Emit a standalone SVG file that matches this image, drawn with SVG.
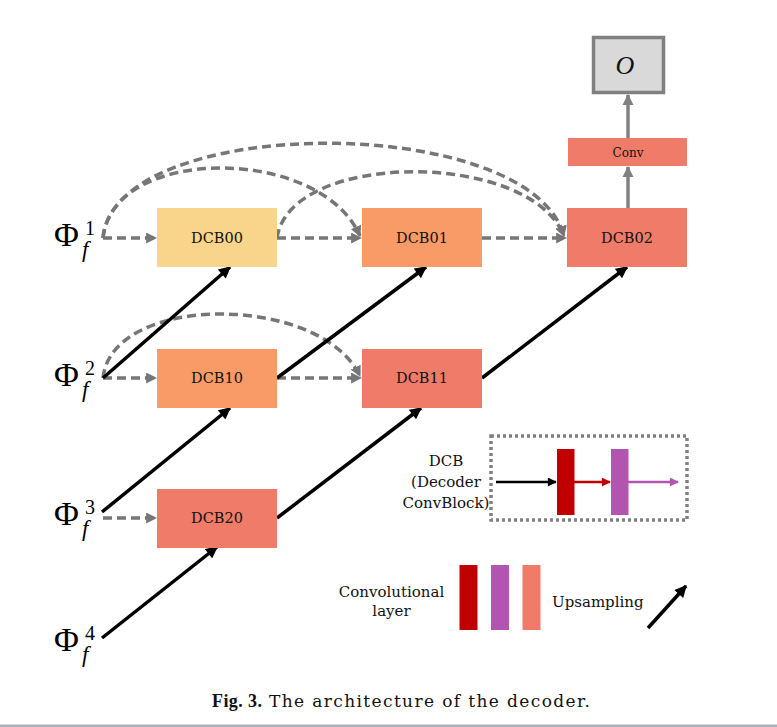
<svg xmlns="http://www.w3.org/2000/svg" width="777" height="727" viewBox="0 0 777 727">
<style>
.box{stroke:none}
.lbl{font-family:"DejaVu Serif","Liberation Serif",serif;font-size:14.5px;fill:#111;text-anchor:middle}
.phi{font-family:"Liberation Serif",serif;fill:#000}
.dash{fill:none;stroke:#767676;stroke-width:3.5;stroke-dasharray:9 5}
.solid{fill:none;stroke:#000;stroke-width:3.5}
.leg{font-family:"DejaVu Serif","Liberation Serif",serif;font-size:15px;fill:#111}
</style>
<defs>
<marker id="ga" markerUnits="userSpaceOnUse" viewBox="0 0 10 10" refX="9" refY="5" markerWidth="11" markerHeight="11" orient="auto"><path d="M0,0 L10,5 L0,10 z" fill="#767676"/></marker>
<marker id="ba" markerUnits="userSpaceOnUse" viewBox="0 0 10 10" refX="9" refY="5" markerWidth="13" markerHeight="12" orient="auto"><path d="M0,0 L10,5 L0,10 z" fill="#000"/></marker>
<marker id="sa" markerUnits="userSpaceOnUse" viewBox="0 0 10 10" refX="9" refY="5" markerWidth="10" markerHeight="9" orient="auto"><path d="M0,0 L10,5 L0,10 z" fill="#000"/></marker>
<marker id="ra" markerUnits="userSpaceOnUse" viewBox="0 0 10 10" refX="9" refY="5" markerWidth="10" markerHeight="9" orient="auto"><path d="M0,0 L10,5 L0,10 z" fill="#C00000"/></marker>
<marker id="pa" markerUnits="userSpaceOnUse" viewBox="0 0 10 10" refX="9" refY="5" markerWidth="10" markerHeight="9" orient="auto"><path d="M0,0 L10,5 L0,10 z" fill="#B254B0"/></marker>
<marker id="ca" markerUnits="userSpaceOnUse" viewBox="0 0 10 10" refX="9" refY="5" markerWidth="11" markerHeight="12" orient="auto"><path d="M0,0 L10,5 L0,10 z" fill="#808080"/></marker>
</defs>
<rect width="777" height="727" fill="#fff"/>

<g id="connectors">
<path class="dash" d="M103,238 H156" marker-end="url(#ga)"/>
<path class="dash" d="M277,238 H361" marker-end="url(#ga)"/>
<path class="dash" d="M482,238 H566" marker-end="url(#ga)"/>
<path class="dash" d="M103,378 H156" marker-end="url(#ga)"/>
<path class="dash" d="M277,378 H361" marker-end="url(#ga)"/>
<path class="dash" d="M103,518 H156" marker-end="url(#ga)"/>
<path class="dash" d="M103,238 C115,112 530,112 564,236" marker-end="url(#ga)"/>
<path class="dash" d="M103,238 C112,145 320,145 360,236" marker-end="url(#ga)"/>
<path class="dash" d="M277,238 C290,150 530,150 564,236" marker-end="url(#ga)"/>
<path class="dash" d="M103,378 C112,293 320,293 360,376" marker-end="url(#ga)"/>
<path class="solid" d="M103,378 L230,267" marker-end="url(#ba)"/>
<path class="solid" d="M277,378 L426,267" marker-end="url(#ba)"/>
<path class="solid" d="M482,378 L627,267" marker-end="url(#ba)"/>
<path class="solid" d="M102,512 L230,408" marker-end="url(#ba)"/>
<path class="solid" d="M277,518 L421,408" marker-end="url(#ba)"/>
<path class="solid" d="M102,638 L217,547" marker-end="url(#ba)"/>
<path d="M628,208 V167" stroke="#808080" stroke-width="3.5" fill="none" marker-end="url(#ca)"/>
<path d="M628,138 V95" stroke="#808080" stroke-width="3.5" fill="none" marker-end="url(#ca)"/>
</g>

<g id="phi1"><text class="phi" x="54" y="246" font-size="34">Φ</text><text class="phi" x="85" y="235" font-size="20">1</text><text class="phi" x="82" y="257" font-size="23" font-style="italic">f</text></g>
<g id="phi2"><text class="phi" x="54" y="386" font-size="34">Φ</text><text class="phi" x="85" y="375" font-size="20">2</text><text class="phi" x="82" y="397" font-size="23" font-style="italic">f</text></g>
<g id="phi3"><text class="phi" x="54" y="525" font-size="34">Φ</text><text class="phi" x="85" y="514" font-size="20">3</text><text class="phi" x="82" y="536" font-size="23" font-style="italic">f</text></g>
<g id="phi4"><text class="phi" x="54" y="651" font-size="34">Φ</text><text class="phi" x="85" y="640" font-size="20">4</text><text class="phi" x="82" y="662" font-size="23" font-style="italic">f</text></g>

<g id="DCB00"><rect class="box" x="157" y="208" width="120" height="59" fill="#F8D58A"/><text class="lbl" x="217" y="243">DCB00</text></g>
<g id="DCB01"><rect class="box" x="362" y="208" width="120" height="59" fill="#F99B66"/><text class="lbl" x="422" y="243">DCB01</text></g>
<g id="DCB02"><rect class="box" x="567" y="208" width="120" height="59" fill="#F07B69"/><text class="lbl" x="627" y="243">DCB02</text></g>
<g id="DCB10"><rect class="box" x="157" y="349" width="120" height="59" fill="#F99B66"/><text class="lbl" x="217" y="383">DCB10</text></g>
<g id="DCB11"><rect class="box" x="362" y="349" width="120" height="59" fill="#F07B69"/><text class="lbl" x="422" y="383">DCB11</text></g>
<g id="DCB20"><rect class="box" x="157" y="489" width="120" height="59" fill="#F07B69"/><text class="lbl" x="217" y="523">DCB20</text></g>
<g id="Conv"><rect class="box" x="568" y="138" width="119" height="28" fill="#F07B69"/><text class="lbl" x="628" y="157" style="font-size:12px">Conv</text></g>
<g id="O"><rect x="593.5" y="37.5" width="70" height="55" fill="#D9D9D9" stroke="#808080" stroke-width="3.5"/><text x="625" y="74" font-family="Liberation Serif,serif" font-style="italic" font-size="26" text-anchor="middle" fill="#111">O</text></g>

<g id="legend-dcb">
<rect x="491" y="436" width="196" height="84" fill="none" stroke="#808080" stroke-width="3.5" stroke-dasharray="3 3"/>
<text class="leg" x="446" y="466" text-anchor="middle">DCB</text>
<text class="leg" x="446" y="487" text-anchor="middle">(Decoder</text>
<text class="leg" x="446" y="508" text-anchor="middle">ConvBlock)</text>
<path d="M496,482 H556" stroke="#000" stroke-width="2.5" marker-end="url(#sa)"/>
<rect x="557" y="449" width="17.5" height="66" fill="#C00000"/>
<path d="M574,482 H610" stroke="#C00000" stroke-width="2.5" marker-end="url(#ra)"/>
<rect x="611" y="449" width="17.5" height="66" fill="#B254B0"/>
<path d="M628,482 H678" stroke="#B254B0" stroke-width="2.5" marker-end="url(#pa)"/>
</g>

<g id="legend-layers">
<text class="leg" x="391.5" y="597" text-anchor="middle">Convolutional</text>
<text class="leg" x="391.5" y="616" text-anchor="middle">layer</text>
<rect x="459.5" y="565" width="18" height="65" fill="#C00000"/>
<rect x="491" y="565" width="18" height="65" fill="#B254B0"/>
<rect x="522.5" y="565" width="18" height="65" fill="#F07B69"/>
<text class="leg" x="552" y="607">Upsampling</text>
<path class="solid" d="M648,628 L686,586" marker-end="url(#ba)"/>
</g>

<g id="caption">
<text x="212" y="707" font-family="Liberation Serif,serif" font-size="18" font-weight="bold" fill="#111" textLength="50" lengthAdjust="spacing">Fig. 3.</text>
<text x="269" y="707" font-family="DejaVu Serif,serif" font-size="17" fill="#111" textLength="321" lengthAdjust="spacing">The architecture of the decoder.</text>
</g>
<rect x="0" y="724.5" width="777" height="2.5" fill="#A9B1B9"/>
</svg>
